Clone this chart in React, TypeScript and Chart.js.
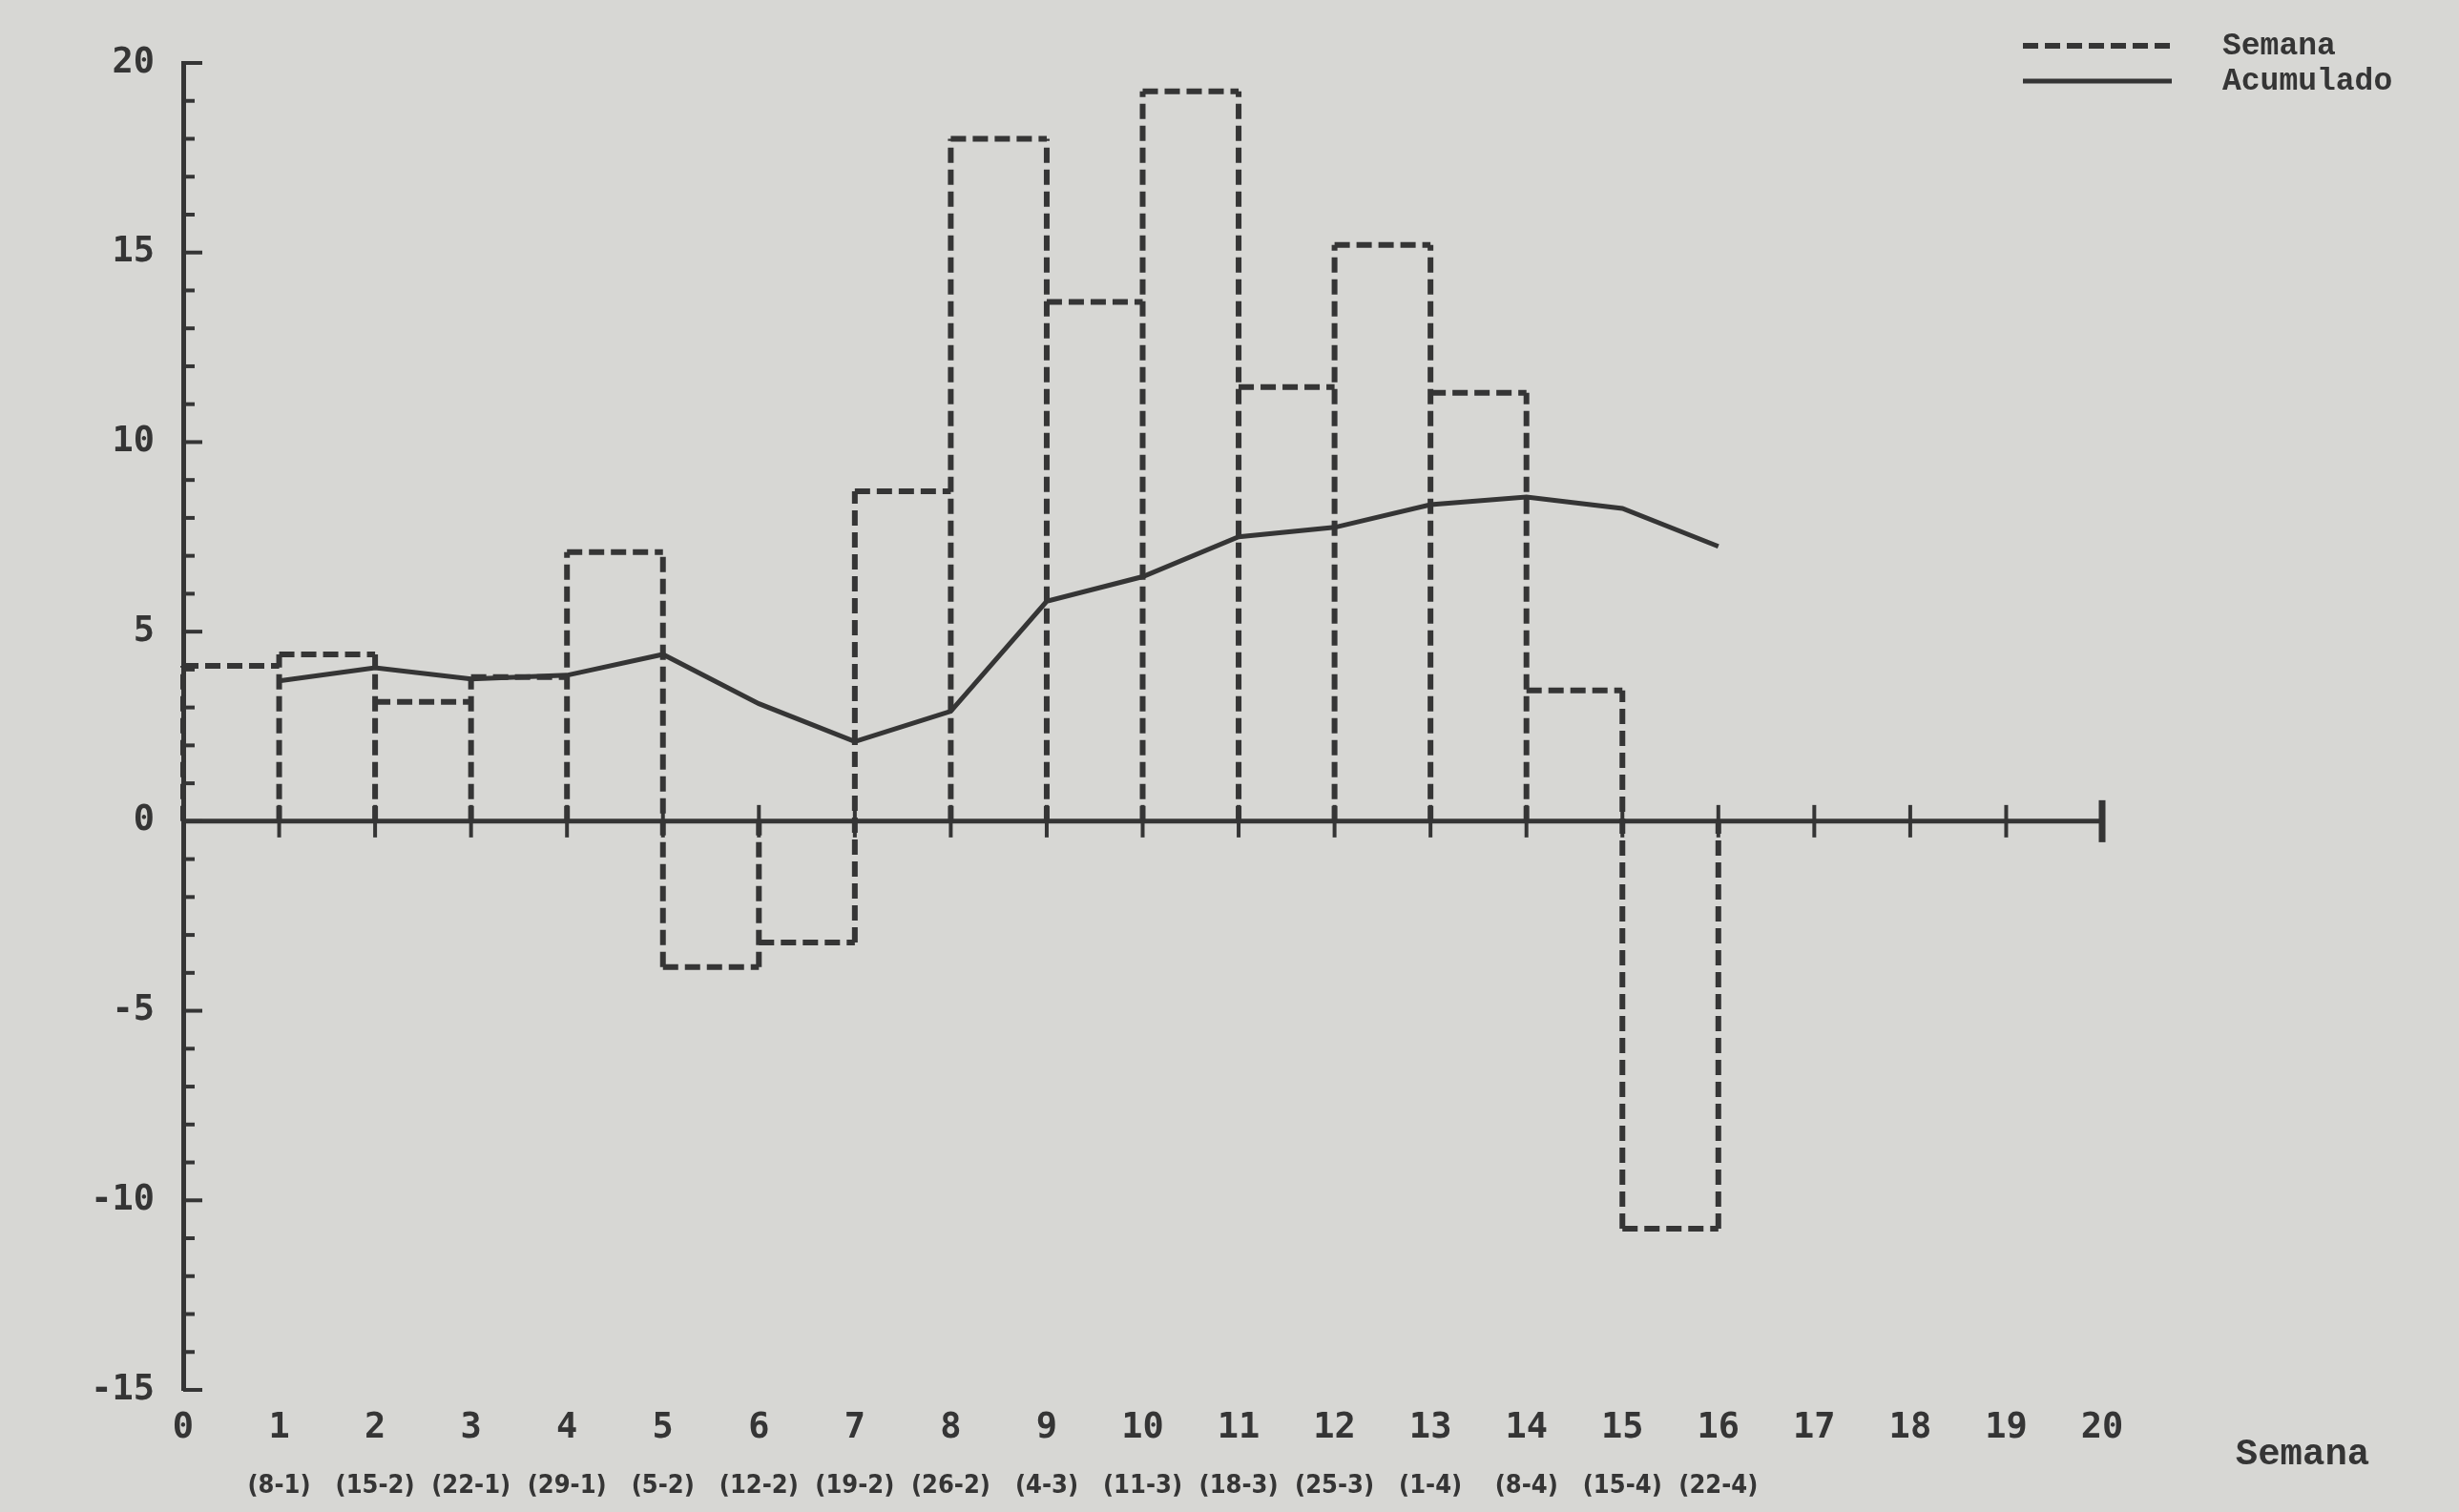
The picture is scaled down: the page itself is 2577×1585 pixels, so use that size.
import React, { useEffect, useRef } from 'react';
import { Chart, registerables } from 'chart.js';

Chart.register(...registerables);

// ---- data ----
const weeks = [1, 2, 3, 4, 5, 6, 7, 8, 9, 10, 11, 12, 13, 14, 15, 16];
const dateLabels = ['(8-1)', '(15-2)', '(22-1)', '(29-1)', '(5-2)', '(12-2)', '(19-2)', '(26-2)', '(4-3)', '(11-3)', '(18-3)', '(25-3)', '(1-4)', '(8-4)', '(15-4)', '(22-4)'];
const semana = [4.1, 4.4, 3.15, 3.8, 7.1, -3.85, -3.2, 8.7, 18.0, 13.7, 19.25, 11.45, 15.2, 11.3, 3.45, -10.75];
const acumulado = [3.7, 4.05, 3.75, 3.85, 4.4, 3.1, 2.1, 2.9, 5.8, 6.45, 7.5, 7.75, 8.35, 8.55, 8.25, 7.25];
const seriesNames = ['Semana', 'Acumulado'];
const xAxisTitle = 'Semana';
const xMin = 0;
const xMax = 20;
const yMin = -15;
const yMax = 20;
const yLabelStep = 5;

const INK = '#353535';
const PAPER = '#d7d7d4';

// bar outlines (step chart with sides down to zero), built from the data
function buildOutline() {
  const pts: { x: number; y: number | null }[] = [];
  semana.forEach((v, i) => {
    const x1 = weeks[i];
    const x0 = x1 - 1;
    pts.push({ x: x0, y: v }, { x: x1, y: v }, { x: x1, y: null });
  });
  for (let e = 0; e <= weeks.length; e++) {
    const vals = [0];
    if (e >= 1) vals.push(semana[e - 1]);
    if (e < weeks.length) vals.push(semana[e]);
    pts.push({ x: e, y: Math.min(...vals) }, { x: e, y: Math.max(...vals) }, { x: e, y: null });
  }
  return pts;
}

const axisDecor = {
  id: 'axisDecor',
  beforeDatasetsDraw(chart: any) {
    const { ctx, chartArea, scales } = chart;
    const x = scales.x;
    const y = scales.y;
    const y0 = y.getPixelForValue(0);
    ctx.save();
    ctx.strokeStyle = INK;
    ctx.lineCap = 'butt';
    // x axis at zero
    ctx.lineWidth = 5;
    ctx.beginPath();
    ctx.moveTo(x.getPixelForValue(xMin), y0);
    ctx.lineTo(x.getPixelForValue(xMax), y0);
    ctx.stroke();
    x.ticks.forEach((t: any) => {
      if (t.value === xMin) return;
      const px = x.getPixelForValue(t.value);
      const len = t.value === xMax ? 22 : 17;
      ctx.lineWidth = t.value === xMax ? 7 : 4;
      ctx.beginPath();
      ctx.moveTo(px, y0 - len);
      ctx.lineTo(px, y0 + len);
      ctx.stroke();
    });
    // y axis ticks (inside)
    ctx.lineWidth = 4;
    y.ticks.forEach((t: any) => {
      const py = y.getPixelForValue(t.value);
      const len = t.value % yLabelStep === 0 ? 20 : 12;
      ctx.beginPath();
      ctx.moveTo(chartArea.left, py);
      ctx.lineTo(chartArea.left + len, py);
      ctx.stroke();
    });
    ctx.restore();
  },
  afterDraw(chart: any) {
    const { ctx, chartArea, scales } = chart;
    ctx.save();
    // axis title
    ctx.fillStyle = INK;
    ctx.font = 'bold 39px "Liberation Mono", monospace';
    ctx.textAlign = 'center';
    ctx.textBaseline = 'middle';
    ctx.fillText(xAxisTitle, chartArea.right + 210, scales.x.top + 68);
    // legend
    chart.data.datasets.forEach((ds: any, i: number) => {
      const yy = chartArea.top - 18 + i * 37;
      ctx.strokeStyle = ds.borderColor;
      ctx.lineWidth = ds.borderWidth;
      ctx.setLineDash(ds.borderDash || []);
      ctx.beginPath();
      ctx.moveTo(chartArea.right - 83, yy);
      ctx.lineTo(chartArea.right + 73, yy);
      ctx.stroke();
      ctx.setLineDash([]);
      ctx.fillStyle = INK;
      ctx.font = 'bold 33px "Liberation Mono", monospace';
      ctx.textAlign = 'left';
      ctx.textBaseline = 'middle';
      ctx.fillText(ds.label, chartArea.right + 126, yy + 1);
    });
    ctx.restore();
  },
};

export default function App() {
  const ref = useRef<HTMLCanvasElement | null>(null);

  useEffect(() => {
    if (!ref.current) return;
    const tickFont = { family: '"DejaVu Sans Mono", monospace', size: 37, weight: 'bold' as const };
    const chart = new Chart(ref.current, {
      type: 'line',
      data: {
        datasets: [
          {
            label: seriesNames[0],
            data: buildOutline() as any,
            borderColor: INK,
            borderWidth: 6,
            borderDash: [16, 7],
            pointRadius: 0,
            tension: 0,
            spanGaps: false,
            fill: false,
            clip: false as any,
          },
          {
            label: seriesNames[1],
            data: weeks.map((w, i) => ({ x: w, y: acumulado[i] })) as any,
            borderColor: INK,
            borderWidth: 5,
            pointRadius: 0,
            tension: 0,
            fill: false,
            clip: false as any,
          },
        ],
      },
      options: {
        animation: false,
        responsive: true,
        maintainAspectRatio: false,
        devicePixelRatio: 1,
        layout: { padding: { left: 0, top: 66, right: 374, bottom: 0 } },
        plugins: { legend: { display: false }, tooltip: { enabled: false } },
        scales: {
          x: {
            type: 'linear',
            position: 'bottom',
            min: xMin,
            max: xMax,
            grid: { display: false, drawTicks: false },
            border: { display: false },
            ticks: {
              stepSize: 1,
              autoSkip: false,
              maxRotation: 0,
              padding: 18,
              color: INK,
              font: tickFont,
              callback: (v: any) => String(v),
            },
            afterFit: (s: any) => { s.height = 70; },
          },
          x2: {
            type: 'linear',
            position: 'bottom',
            min: xMin,
            max: xMax,
            grid: { display: false, drawTicks: false },
            border: { display: false },
            ticks: {
              stepSize: 1,
              autoSkip: false,
              maxRotation: 0,
              padding: 15,
              color: INK,
              font: { family: '"Liberation Sans Narrow", "DejaVu Sans Condensed", sans-serif', size: 27, weight: 'bold' },
              callback: (v: any) => {
                const i = weeks.indexOf(Number(v));
                return i >= 0 ? dateLabels[i] : '';
              },
            },
            afterFit: (s: any) => { s.height = 58; },
          },
          y: {
            type: 'linear',
            min: yMin,
            max: yMax,
            grid: { display: false, drawTicks: false },
            border: { display: true, color: INK, width: 5 },
            ticks: {
              stepSize: 1,
              autoSkip: false,
              padding: 30,
              color: INK,
              font: tickFont,
              callback: (v: any) => (Number(v) % yLabelStep === 0 ? String(v) : ''),
            },
            afterFit: (s: any) => { s.width = 192; },
          },
        },
      },
      plugins: [axisDecor],
    });
    return () => chart.destroy();
  }, []);

  return (
    <div style={{ position: 'fixed', left: 0, top: 0, width: 2577, height: 1585, background: PAPER }}>
      <canvas ref={ref} />
    </div>
  );
}
